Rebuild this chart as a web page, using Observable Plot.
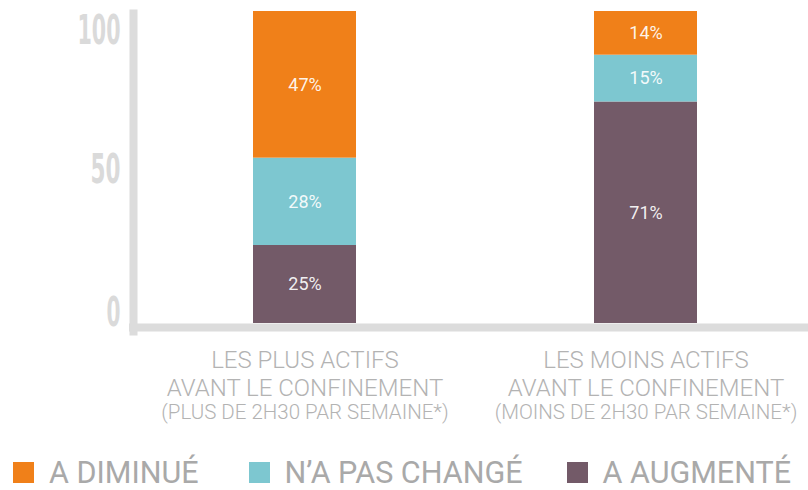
<!DOCTYPE html>
<html>
<head>
<meta charset="utf-8">
<script src="https://cdn.jsdelivr.net/npm/d3@7"></script>
<script src="https://cdn.jsdelivr.net/npm/@observablehq/plot@0.6"></script>
<style>
  html, body { margin: 0; padding: 0; background: #fff; }
  #chart { width: 808px; }
  .legend { display: flex; align-items: center; height: 65px; font-family: Roboto, "Open Sans", sans-serif; font-size: 30.5px; color: #a9a9a9; white-space: nowrap; }
  .legend .item { display: flex; align-items: center; }
  .legend .sw { width: 21px; height: 21px; margin-right: 15px; }
</style>
</head>
<body>
<div id="chart"></div>
<script>
// ---- data ----
const groups = ["LES PLUS ACTIFS", "LES MOINS ACTIFS"];
const xLine2 = ["AVANT LE CONFINEMENT", "AVANT LE CONFINEMENT"];
const xLine3 = ["(PLUS DE 2H30 PAR SEMAINE*)", "(MOINS DE 2H30 PAR SEMAINE*)"];
const series = ["A AUGMENTÉ", "N’A PAS CHANGÉ", "A DIMINUÉ"];   // stacking order, bottom to top
const augmente = [25, 71];
const pasChange = [28, 15];
const diminue = [47, 14];
const yTicks = [0, 50, 100];
const legendOrder = ["A DIMINUÉ", "N’A PAS CHANGÉ", "A AUGMENTÉ"];
const colors = ["#735a68", "#7dc7d0", "#f08019"];

const values = [augmente, pasChange, diminue];
const data = [];
groups.forEach((g, i) => series.forEach((s, j) => data.push({group: g, series: s, value: values[j][i]})));

const tickDy = [-11, 2, 19];
const tickLen = [14, 30, 43];

const plot = Plot.plot({
  width: 808,
  height: 440,
  marginTop: 11,
  marginBottom: 117,
  marginLeft: 129,
  marginRight: 0,
  x: {domain: groups, range: [253, 697], paddingInner: 0.698, paddingOuter: 0, axis: null},
  y: {domain: [0, 100], axis: null},
  color: {domain: series, range: colors},
  marks: [
    Plot.barY(data, {x: "group", y: "value", fill: "series", z: "series", order: series}),
    Plot.text(data, Plot.stackY({x: "group", y: "value", z: "series", order: series, text: d => d.value + "%", fill: "white", fillOpacity: 0.92, fontSize: 18, fontFamily: "Roboto, sans-serif"})),
    Plot.ruleY([0], {stroke: "#dcdcdc", strokeWidth: 8, dy: 4}),
    Plot.frame({anchor: "left", stroke: "#dcdcdc", strokeWidth: 8, dx: 4, insetTop: 2, insetBottom: -8}),
    ...yTicks.map((t, i) => Plot.text([t], {y: d => d, text: d => String(d), frameAnchor: "left", textAnchor: "end", dx: -9, dy: tickDy[i], fill: "#dadada", fontSize: 41, fontWeight: "bold", fontFamily: "DejaVu Sans Condensed, DejaVu Sans, sans-serif", className: "ytick"})),
    Plot.text(groups, {x: d => d, text: d => d, frameAnchor: "bottom", lineAnchor: "bottom", dy: 44, fill: "#b3b3b3", fontSize: 24, fontWeight: 300, fontFamily: "Roboto, sans-serif"}),
    Plot.text(groups.map((g, i) => ({g, t: xLine2[i]})), {x: "g", text: "t", frameAnchor: "bottom", lineAnchor: "bottom", dy: 72, fill: "#b3b3b3", fontSize: 24, fontWeight: 300, fontFamily: "Roboto, sans-serif"}),
    Plot.text(groups.map((g, i) => ({g, t: xLine3[i]})), {x: "g", text: "t", frameAnchor: "bottom", lineAnchor: "bottom", dy: 95, fill: "#b3b3b3", fontSize: 20.5, fontWeight: 300, fontFamily: "Roboto, sans-serif"})
  ]
});

// condense the y tick digits
d3.select(plot).selectAll("g.ytick text").each(function() {
  const v = +this.textContent;
  const i = yTicks.indexOf(v);
  d3.select(this).attr("textLength", tickLen[i]).attr("lengthAdjust", "spacingAndGlyphs");
});

document.getElementById("chart").appendChild(plot);

const legend = document.createElement("div");
legend.className = "legend";
const margins = [13, 50, 44];
legendOrder.forEach((s, i) => {
  const item = document.createElement("div");
  item.className = "item";
  item.style.marginLeft = margins[i] + "px";
  const sw = document.createElement("span");
  sw.className = "sw";
  sw.style.background = colors[series.indexOf(s)];
  const tx = document.createElement("span");
  tx.textContent = s;
  item.appendChild(sw);
  item.appendChild(tx);
  legend.appendChild(item);
});
document.getElementById("chart").appendChild(legend);
</script>
</body>
</html>
